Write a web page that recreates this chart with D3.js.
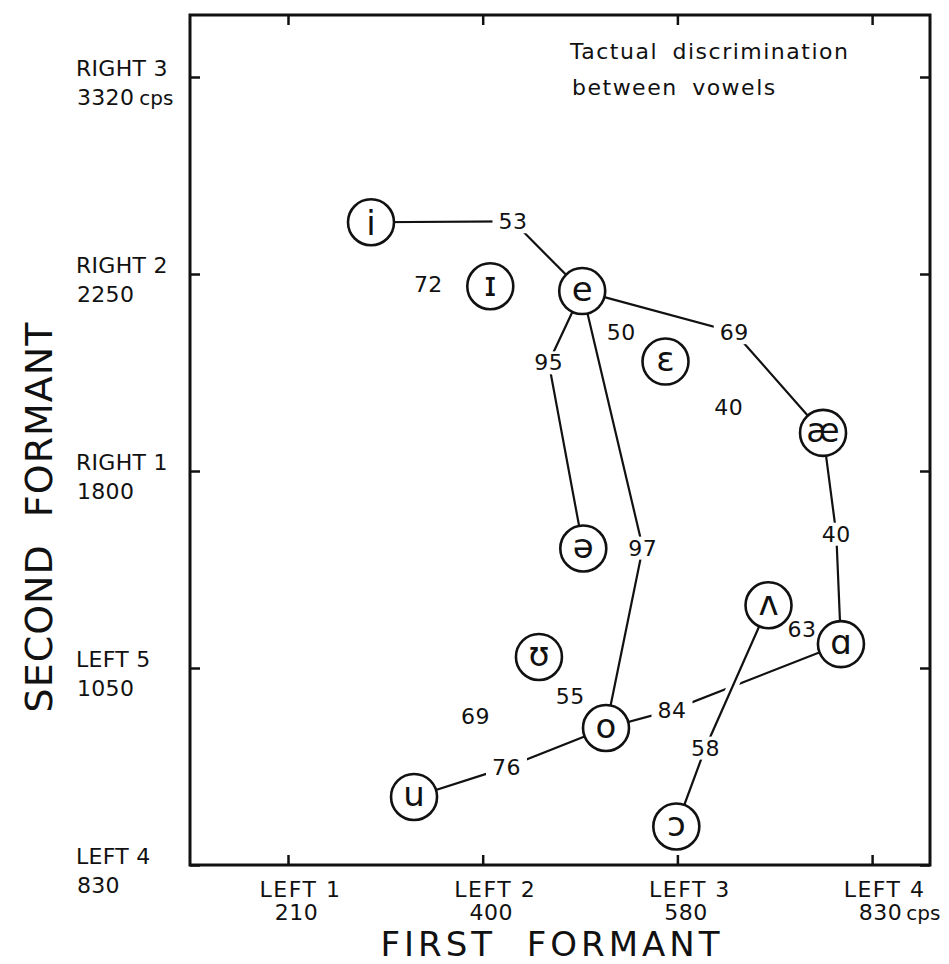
<!DOCTYPE html>
<html>
<head>
<meta charset="utf-8">
<script src="https://cdn.jsdelivr.net/npm/d3@7"></script>
<style>
  html, body { margin: 0; padding: 0; background: #fff; }
  svg { display: block; font-family: "DejaVu Sans", sans-serif; }
  svg text { font-family: "DejaVu Sans", sans-serif; }
</style>
</head>
<body>
<svg id="chart" width="949" height="964"></svg>
<script>
// ---------- data ----------
// First formant (horizontal) ticks
const f1Ticks = [210, 400, 580, 830];
const f1Names = ["LEFT 1", "LEFT 2", "LEFT 3", "LEFT 4"];
const f1Units = ["", "", "", "cps"];
// Second formant (vertical) ticks
const f2Ticks = [830, 1050, 1800, 2250, 3320];
const f2Names = ["LEFT 4", "LEFT 5", "RIGHT 1", "RIGHT 2", "RIGHT 3"];
const f2Units = ["", "", "", "", "cps"];

// Vowels and their formant positions (cps)
const vowels = ["i", "ɪ", "e", "ɛ", "æ", "ə", "ʊ", "o", "u", "ɔ", "ʌ", "ɑ"];
const vowelF1 = [291, 407, 492, 569, 767, 493, 452, 514, 333, 579, 697, 790];
const vowelF2 = [2531, 2222, 2211, 2050, 1887, 1505, 1092, 983, 906, 873, 1289, 1141];

// Discrimination scores between vowel pairs
const pairFrom  = ["i", "e", "e", "e", "æ", "u", "o", "ʌ", "i", "e", "ɛ", "ʊ", "u", "ʌ"];
const pairTo    = ["e", "æ", "ə", "o", "ɑ", "o", "ɑ", "ɔ", "ɪ", "ɛ", "æ", "o", "ʊ", "ɑ"];
const pairScore = [53, 69, 95, 97, 40, 76, 84, 58, 72, 50, 40, 55, 69, 63];
const pairLinked = [true, true, true, true, true, true, true, true, false, false, false, false, false, false];
// where each score is written (cps)
const pairLabelF1 = [428, 653, 461, 548, 784, 422, 575, 616, 347, 528, 646, 481, 393, 740];
const pairLabelF2 = [2536, 2117, 2048, 1508, 1561, 939, 1003, 961, 2227, 2117, 1947, 1019, 996, 1198];

const titleLines = ["Tactual discrimination", "between vowels"];
const xTitle = "FIRST FORMANT";
const yTitle = "SECOND FORMANT";

// ---------- layout ----------
const box = { left: 190, right: 930, top: 15, bottom: 865 };
const xStep = 194.7, yStep = 197;
const x = d3.scaleLinear()
  .domain(f1Ticks)
  .range(f1Ticks.map((d, i) => 288 + i * xStep));
const y = d3.scaleLinear()
  .domain(f2Ticks)
  .range(f2Ticks.map((d, i) => box.bottom - i * yStep));

const svg = d3.select("#chart");
const ink = "#111";
const FONT = "DejaVu Sans";

// frame
svg.append("rect")
  .attr("x", box.left).attr("y", box.top)
  .attr("width", box.right - box.left).attr("height", box.bottom - box.top)
  .attr("fill", "none").attr("stroke", ink).attr("stroke-width", 3);

function styleAxis(g) {
  g.attr("font-family", FONT).attr("text-anchor", "start");
  g.select(".domain").remove();
  g.selectAll(".tick line").attr("stroke", ink).attr("stroke-width", 2.5);
  g.selectAll(".tick text").remove();
}

const gBottom = svg.append("g").attr("transform", `translate(0,${box.bottom})`)
  .call(d3.axisBottom(x).tickValues(f1Ticks).tickSize(-10)).call(styleAxis);
svg.append("g").attr("transform", `translate(0,${box.top})`)
  .call(d3.axisTop(x).tickValues(f1Ticks).tickSize(-10)).call(styleAxis);
const gLeft = svg.append("g").attr("transform", `translate(${box.left},0)`)
  .call(d3.axisLeft(y).tickValues(f2Ticks).tickSize(-10)).call(styleAxis);
svg.append("g").attr("transform", `translate(${box.right},0)`)
  .call(d3.axisRight(y).tickValues(f2Ticks).tickSize(-10)).call(styleAxis);

const tickFont = 22;
// bottom tick labels
gBottom.selectAll(".tick").each(function(d, i) {
  const t = d3.select(this);
  t.append("text")
    .attr("x", 12).attr("y", 32)
    .attr("text-anchor", "middle")
    .attr("font-size", tickFont).attr("letter-spacing", 1.5)
    .attr("fill", ink)
    .text(f1Names[i]);
  const num = t.append("text")
    .attr("x", 8).attr("y", 55)
    .attr("text-anchor", "middle")
    .attr("font-size", tickFont).attr("letter-spacing", 0.5)
    .attr("fill", ink)
    .text(d);
  if (f1Units[i]) {
    const w = num.node().getComputedTextLength();
    t.append("text")
      .attr("x", 8 + w / 2 + 4).attr("y", 55)
      .attr("text-anchor", "start")
      .attr("font-size", 20).attr("fill", ink)
      .text(f1Units[i]);
  }
});

// left tick labels
gLeft.selectAll(".tick").each(function(d, i) {
  const t = d3.select(this);
  const lx = 76 - box.left;
  t.append("text")
    .attr("x", lx).attr("y", -2)
    .attr("text-anchor", "start")
    .attr("font-size", tickFont).attr("letter-spacing", 0.3)
    .attr("fill", ink)
    .text(f2Names[i]);
  const num = t.append("text")
    .attr("x", lx + 1).attr("y", 27)
    .attr("text-anchor", "start")
    .attr("font-size", tickFont).attr("letter-spacing", 0.3)
    .attr("fill", ink)
    .text(d);
  if (f2Units[i]) {
    const w = num.node().getComputedTextLength();
    t.append("text")
      .attr("x", lx + 1 + w + 5).attr("y", 27)
      .attr("text-anchor", "start")
      .attr("font-size", 20).attr("fill", ink)
      .text(f2Units[i]);
  }
});

// axis titles
svg.append("text")
  .attr("x", 552).attr("y", 956)
  .attr("text-anchor", "middle")
  .attr("font-size", 34).attr("letter-spacing", 4).attr("word-spacing", 16)
  .attr("fill", ink)
  .text(xTitle);
svg.append("text")
  .attr("transform", "translate(52,517) rotate(-90)")
  .attr("text-anchor", "middle")
  .attr("font-size", 38).attr("letter-spacing", 1).attr("word-spacing", 14)
  .attr("fill", ink)
  .text(yTitle);

// in-plot title
svg.selectAll(".ttl").data(titleLines).join("text")
  .attr("class", "ttl")
  .attr("x", (d, i) => 570 + i * 2)
  .attr("y", (d, i) => 59 + i * 36)
  .attr("font-size", 22).attr("letter-spacing", 1.5).attr("word-spacing", 6)
  .attr("fill", ink)
  .text(d => d);

// ---------- marks ----------
const pos = {};
vowels.forEach((v, i) => { pos[v] = [x(vowelF1[i]), y(vowelF2[i])]; });

const pairs = pairScore.map((s, i) => ({
  a: pairFrom[i], b: pairTo[i], score: s, linked: pairLinked[i],
  lx: x(pairLabelF1[i]), ly: y(pairLabelF2[i])
}));

const line = d3.line();
const gEdges = svg.append("g");
pairs.filter(p => p.linked).forEach(p => {
  const pts = [pos[p.a], [p.lx, p.ly], pos[p.b]];
  gEdges.append("path").attr("d", line(pts))
    .attr("fill", "none").attr("stroke", "#fff").attr("stroke-width", 11);
  gEdges.append("path").attr("d", line(pts))
    .attr("fill", "none").attr("stroke", ink).attr("stroke-width", 2.2);
});

// score labels
const gLabels = svg.append("g");
pairs.forEach(p => {
  const g = gLabels.append("g");
  const t = g.append("text")
    .attr("x", p.lx).attr("y", p.ly).attr("dy", "0.36em")
    .attr("text-anchor", "middle")
    .attr("font-size", 22).attr("letter-spacing", 0.5)
    .attr("fill", ink)
    .text(p.score);
  if (p.linked) {
    const bb = t.node().getBBox();
    g.insert("rect", "text")
      .attr("x", bb.x - 6).attr("y", bb.y + 1)
      .attr("width", bb.width + 12).attr("height", bb.height - 2)
      .attr("fill", "#fff");
  }
});

// vowel circles
const gNodes = svg.append("g").selectAll("g").data(vowels).join("g")
  .attr("transform", v => `translate(${pos[v][0]},${pos[v][1]})`);
gNodes.append("circle")
  .attr("r", 23).attr("fill", "#fff").attr("stroke", ink).attr("stroke-width", 2.6);
gNodes.append("text")
  .attr("text-anchor", "middle")
  .attr("dy", v => v === "i" ? "0.37em" : "0.28em")
  .attr("font-size", 34)
  .attr("fill", ink)
  .text(v => v);
</script>
</body>
</html>
